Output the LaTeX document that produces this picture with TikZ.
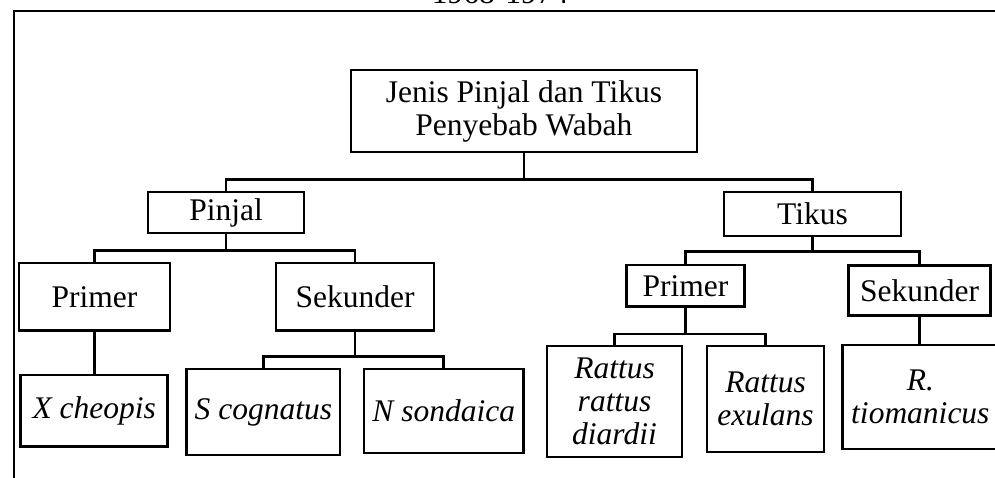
\documentclass[tikz,border=0pt]{standalone}
\usepackage{fontspec}
\setmainfont{Liberation Serif}
\begin{document}
\begin{tikzpicture}[x=1pt,y=-1pt,
  lbl/.style={font=\fontsize{31.5}{33}\selectfont},
  box/.style={draw, line width=2.6pt, inner sep=0pt, align=center, lbl},
  itbox/.style={box, font=\fontsize{31.5}{33}\selectfont\itshape},
  conn/.style={line width=2.6pt}]
\useasboundingbox (0,0) rectangle (995,478);
\clip (0,0) rectangle (995,478);
% frame and cut-off title
\node[lbl, anchor=base, inner sep=0pt] (title) at (500,4) {1968-1974};
\coordinate (fbl) at (13.8,500);
\coordinate (ftl) at (13.8,11.2);
\coordinate (ftr) at (1010,11.2);
\draw[line width=2.2pt] (fbl) -- (ftl) -- (ftr);
% boxes
\node[box, minimum width=346pt, minimum height=82pt] (top) at (523.9,111) {Jenis Pinjal dan Tikus\\Penyebab Wabah};
\node[box, minimum width=156pt, minimum height=41pt] (pinjal) at (226,212.5) {Pinjal};
\node[box, minimum width=177pt, minimum height=44pt] (tikus) at (812.5,214) {Tikus};
\node[box, minimum width=151pt, minimum height=67.5pt] (lprim) at (94.5,296.75) {Primer};
\node[box, minimum width=158pt, minimum height=67.5pt] (lsek) at (355,296.75) {Sekunder};
\node[box, minimum width=117.6pt, minimum height=41.7pt] (rprim) at (685.5,285.85) {Primer};
\node[box, minimum width=142.4pt, minimum height=50.2pt] (rsek) at (919.5,290.6) {Sekunder};
\node[itbox, minimum width=147pt, minimum height=71.7pt] (xch) at (94.2,410.85) {X cheopis};
\node[itbox, minimum width=153.3pt, minimum height=86pt] (scog) at (263.35,412) {S cognatus};
\node[itbox, minimum width=159.5pt, minimum height=84pt] (nson) at (443.75,411) {N sondaica};
\node[itbox, minimum width=135pt, minimum height=111pt] (rrd) at (614.5,401.5) {Rattus\\rattus\\diardii};
\node[itbox, minimum width=117pt, minimum height=106pt] (rex) at (765.5,399) {Rattus\\exulans};
\node[itbox, minimum width=155.3pt, minimum height=104pt] (rtio) at (920.35,397) {R.\\tiomanicus};
% connectors
\coordinate (b1) at (523.9,179.5);
\draw[conn] (pinjal.north) |- (b1) -| (tikus.north);
\draw[conn] (top.south) -- (b1);
\coordinate (b2) at (226,250.7);
\draw[conn] (lprim.north) |- (b2) -| (lsek.north);
\draw[conn] (pinjal.south) -- (b2);
\coordinate (b3) at (812.5,251.7);
\draw[conn] (rprim.north) |- (b3) -| (rsek.north);
\draw[conn] (tikus.south) -- (b3);
\draw[conn] (lprim.south) -- (lprim.south |- xch.north);
\coordinate (b4) at (355,356.7);
\draw[conn] (scog.north) |- (b4) -| (nson.north);
\draw[conn] (lsek.south) -- (b4);
\coordinate (b5) at (685.5,334);
\draw[conn] (rrd.north) |- (b5) -| (rex.north);
\draw[conn] (rprim.south) -- (b5);
\draw[conn] (rsek.south) -- (rsek.south |- rtio.north);
\end{tikzpicture}
\end{document}
